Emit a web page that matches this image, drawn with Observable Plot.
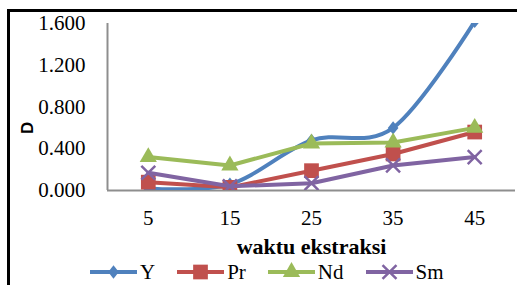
<!DOCTYPE html>
<html><head><meta charset="utf-8">
<script src="https://cdn.jsdelivr.net/npm/d3@7"></script>
<script src="https://cdn.jsdelivr.net/npm/@observablehq/plot@0.6"></script>
<style>
body{margin:0;background:#fff;}
#wrap{position:relative;width:517px;height:285px;overflow:hidden;background:#fff;}
#frame{position:absolute;left:7px;top:9px;width:600px;height:400px;border-left:3px solid #000;border-top:3px solid #000;}
#chart{position:absolute;left:0;top:0;}
#chart svg{font-family:"Liberation Serif",serif !important;font-size:21px !important;}
#chart svg g[aria-label="tick label"] text{font-family:"Liberation Serif",serif !important;}
#legend{position:absolute;left:90px;top:260px;display:flex;align-items:center;font-family:"Liberation Serif",serif;font-size:21px;height:24px;color:#000;}
.item{display:flex;align-items:center;margin-right:22px;}
.item svg{margin-right:3px;}
</style></head>
<body><div id="wrap"><div id="frame"></div><div id="chart"></div><div id="legend"></div></div>
<script>
const times = [5, 15, 25, 35, 45];
const seriesNames = ["Y", "Pr", "Nd", "Sm"];
const valY  = [0.02, 0.06, 0.48, 0.60, 1.62];
const valPr = [0.08, 0.03, 0.19, 0.35, 0.56];
const valNd = [0.32, 0.24, 0.45, 0.46, 0.60];
const valSm = [0.17, 0.04, 0.07, 0.24, 0.32];
const yTicks = [0, 0.4, 0.8, 1.2, 1.6];
const colors = ["#4F81BD", "#C0504D", "#9BBB59", "#8064A2"];
const xTitle = "waktu ekstraksi";
const yTitle = "D";

const values = [valY, valPr, valNd, valSm];
const diamond = {draw(ctx, size) {const h = Math.sqrt(size) / 2, w = h * 0.8; ctx.moveTo(0, -h); ctx.lineTo(w, 0); ctx.lineTo(0, h); ctx.lineTo(-w, 0); ctx.closePath();}};
const symbols = [diamond, "square", "triangle", "times"];
const radii = [7.5, 8.3, 6.4, 6.4];

const rows = seriesNames.flatMap((s, i) => times.map((t, j) => ({s, t, v: values[i][j]})));

const marks = [
  Plot.ruleY([0], {stroke: "#8e8e8e", strokeWidth: 2}),
  Plot.ruleX([0], {stroke: "#8e8e8e", strokeWidth: 2}),
  Plot.axisX(times, {tickSize: 0, tickPadding: 20, label: null, tickFormat: d => String(d), fontFamily: "Liberation Serif", fontSize: 21}),
  Plot.axisY(yTicks, {tickSize: 0, tickPadding: 22, label: null, tickFormat: d3.format(".3f"), fontFamily: "Liberation Serif", fontSize: 21}),
  Plot.text([xTitle], {frameAnchor: "bottom", dy: 63, fontWeight: "bold", fontSize: 22, fontFamily: "Liberation Serif", fill: "#000"}),
  Plot.text([yTitle], {frameAnchor: "left", dx: -80, dy: 27, rotate: -90, fontWeight: "bold", fontSize: 17, fontFamily: "Liberation Sans", fill: "#000"})
];
seriesNames.forEach((s, i) => {
  const data = rows.filter(d => d.s === s);
  marks.push(Plot.line(data, {x: "t", y: "v", stroke: colors[i], strokeWidth: 4, curve: s === "Y" ? "cardinal" : "linear", clip: true}));
  const isStroke = symbols[i] === "times";
  marks.push(Plot.dot(data, {x: "t", y: "v", symbol: () => symbols[i], r: radii[i], clip: true,
    fill: isStroke ? "none" : colors[i], stroke: isStroke ? colors[i] : "none", strokeWidth: isStroke ? 2.5 : 0}));
});

const chart = Plot.plot({
  width: 517, height: 285,
  marginTop: 23, marginBottom: 95, marginLeft: 107, marginRight: 2,
  style: "font-family:'Liberation Serif',serif;font-size:21px;color:#000;background:transparent;",
  x: {domain: [0, 50]},
  y: {domain: [0, 1.6]},
  symbol: {type: "identity"},
  marks
});
document.getElementById("chart").appendChild(chart);

const legend = document.getElementById("legend");
seriesNames.forEach((s, i) => {
  const item = document.createElement("div");
  item.className = "item";
  const sz = Math.PI * radii[i] * radii[i];
  const sym = typeof symbols[i] === "string" ? {square: d3.symbolSquare, triangle: d3.symbolTriangle, times: d3.symbolTimes}[symbols[i]] : symbols[i];
  const path = d3.symbol(sym, sz)();
  const isStroke = symbols[i] === "times";
  item.innerHTML = `<svg width="47" height="20"><line x1="0" x2="47" y1="10" y2="10" stroke="${colors[i]}" stroke-width="4"/><path transform="translate(23.5,10)" d="${path}" fill="${isStroke ? "none" : colors[i]}" stroke="${isStroke ? colors[i] : "none"}" stroke-width="2.5"/></svg><span>${s}</span>`;
  legend.appendChild(item);
});
</script>
</body></html>
